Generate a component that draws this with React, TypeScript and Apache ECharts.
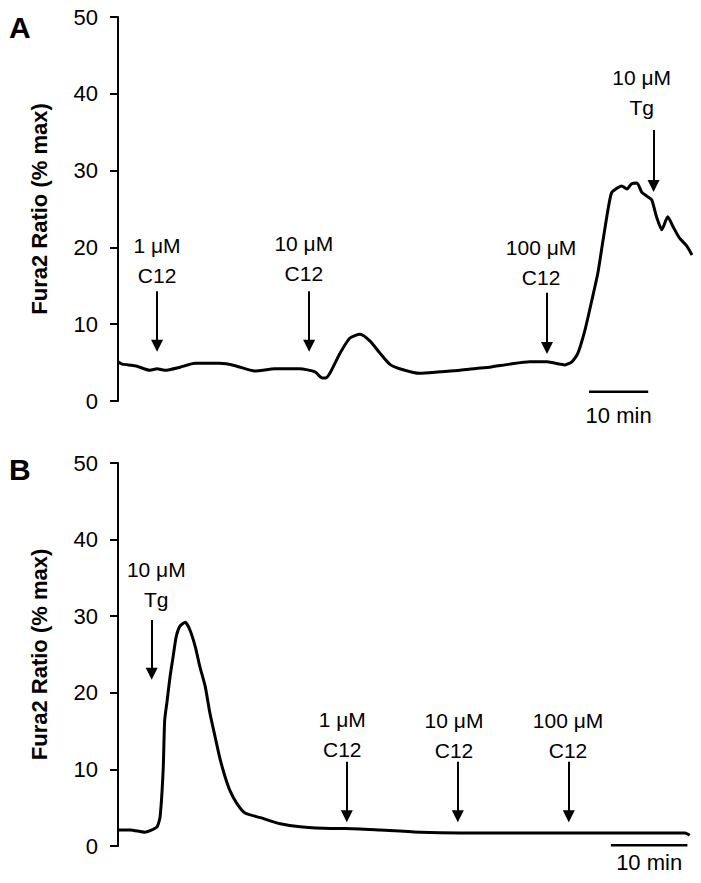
import React, { useEffect, useRef } from 'react';
import * as echarts from 'echarts';

// Panel A trace: time (min) and Fura2 ratio (% max)
const timeA = [0, 0.7, 2.9, 5.4, 6.6, 7.9, 10.5, 13.0, 17.2, 19.8, 23.1, 26.5, 30.7, 33.3, 34.5, 35.1, 35.8, 37.5, 39.2, 40.9, 42.6, 44.3, 45.9, 47.6, 51.0, 54.4, 57.8, 61.1, 62.8, 66.2, 69.6, 72.5, 74.7, 75.5, 76.7, 77.7, 78.9, 80.1, 81.1, 81.9, 82.8, 83.4, 84.3, 85.1, 86.0, 86.8, 87.7, 88.5, 89.5, 90.2, 91.0, 91.9, 92.9, 93.8, 94.9, 96.1, 97.0];
const ratioA = [5.1, 4.8, 4.6, 4.0, 4.2, 4.0, 4.4, 4.9, 4.9, 4.6, 3.9, 4.2, 4.2, 3.8, 3.0, 3.0, 3.6, 6.2, 8.2, 8.7, 7.8, 6.2, 4.8, 4.2, 3.6, 3.8, 4.0, 4.3, 4.4, 4.8, 5.1, 5.1, 4.8, 4.7, 5.1, 6.2, 9.2, 13.2, 16.7, 20.6, 24.9, 27.1, 27.7, 28.0, 27.6, 28.3, 28.4, 27.2, 26.6, 26.2, 24.0, 22.3, 24.0, 22.7, 21.2, 20.2, 19.0];

// Panel B trace
const timeB = [0, 1.6, 3.5, 4.2, 5.1, 5.5, 5.9, 6.1, 6.4, 6.8, 7.2, 7.6, 8.1, 8.8, 9.4, 10.1, 10.7, 11.4, 12.0, 12.7, 13.3, 14.0, 14.6, 15.5, 16.6, 18.6, 21.2, 23.8, 27.7, 29.7, 34.2, 39.5, 44.7, 49.9, 56.4, 63.0, 68.2, 74.1, 74.7];
const ratioB = [2.1, 2.1, 1.8, 2.0, 2.5, 3.8, 9.9, 16.4, 18.8, 22.1, 24.7, 27.3, 28.7, 29.2, 28.2, 26.0, 23.4, 20.8, 17.4, 14.2, 11.5, 9.0, 7.3, 5.6, 4.3, 3.7, 2.9, 2.5, 2.3, 2.3, 2.1, 1.8, 1.7, 1.7, 1.7, 1.7, 1.7, 1.7, 1.4];

// Additions (arrows) panel A
const addTextA = ['1 μM\nC12', '10 μM\nC12', '100 μM\nC12', '10 μM\nTg'];
const addTimeA = [6.6, 32.3, 72.5, 90.5];
const arrowTopA = [14.3, 14.3, 14.1, 35.3];
const arrowEndA = [7.2, 7.2, 6.9, 28.0];
const labelTimeA = [6.6, 31.4, 71.5, 88.5];
const labelLevelA = [18.3, 18.5, 18.0, 40.2];

// Additions (arrows) panel B
const addTextB = ['10 μM\nTg', '1 μM\nC12', '10 μM\nC12', '100 μM\nC12'];
const addTimeB = [4.4, 29.9, 44.4, 58.9];
const arrowTopB = [29.5, 11.0, 11.0, 11.0];
const arrowEndB = [22.5, 3.9, 3.9, 3.9];
const labelTimeB = [5.0, 29.3, 43.9, 58.8];
const labelLevelB = [34.1, 14.5, 14.4, 14.4];

// Scale bars (10 min)
const scaleBarA = [79.6, 89.6];
const scaleLevelA = 1.2;
const scaleLabelLevelA = -1.9;
const scaleBarB = [64.4, 74.4];
const scaleLevelB = 0.1;
const scaleLabelLevelB = -2.2;
const scaleText = '10 min';

const yTicks = { min: 0, max: 50, interval: 10 };
const axisTitle = 'Fura2 Ratio (% max)';

const FONT = '"Liberation Sans", Arial, sans-serif';

export default function App() {
  const ref = useRef<HTMLDivElement>(null);
  useEffect(() => {
    const chart = echarts.init(ref.current!, null, { renderer: 'svg' });

    const yAxis = (gridIndex: number) => ({
      type: 'value',
      gridIndex,
      min: yTicks.min,
      max: yTicks.max,
      interval: yTicks.interval,
      name: axisTitle,
      nameLocation: 'middle',
      nameGap: 68,
      nameRotate: 90,
      nameTextStyle: { fontFamily: FONT, fontSize: 22, fontWeight: 'bold', color: '#000' },
      axisLine: { show: true, lineStyle: { color: '#000', width: 2 } },
      axisTick: { show: true, inside: false, length: 8, lineStyle: { color: '#000', width: 2 } },
      axisLabel: { fontFamily: FONT, fontSize: 22, color: '#000', margin: 20 },
      splitLine: { show: false },
    });

    const trace = (idx: number, t: number[], v: number[], text: string[], at: number[], top: number[], end: number[], lt: number[], ll: number[]) => ({
      type: 'line',
      xAxisIndex: idx,
      yAxisIndex: idx,
      data: t.map((x, i) => [x, v[i]]),
      symbol: 'none',
      smooth: 0.2,
      lineStyle: { color: '#000', width: 3 },
      silent: true,
      markLine: {
        silent: true,
        symbol: ['none', 'triangle'],
        symbolSize: 12,
        itemStyle: { color: '#000' },
        lineStyle: { color: '#000', width: 2, type: 'solid' },
        label: { show: false },
        data: at.map((x, i) => [{ coord: [x, top[i]] }, { coord: [x, end[i]] }]),
      },
      markPoint: {
        silent: true,
        symbol: 'circle',
        symbolSize: 1,
        itemStyle: { color: 'transparent' },
        label: {
          show: true,
          position: 'inside',
          formatter: '{b}',
          color: '#000',
          fontSize: 21,
          lineHeight: 30,
          fontFamily: FONT,
          align: 'center',
        },
        data: text.map((s, i) => ({ name: s, coord: [lt[i], ll[i]] })),
      },
    });

    const scale = (idx: number, bar: number[], level: number) => ({
      type: 'line',
      xAxisIndex: idx,
      yAxisIndex: idx,
      data: bar.map((x) => [x, level]),
      symbol: 'none',
      clip: false,
      silent: true,
      lineStyle: { color: '#000', width: 2.5 },
    });

    chart.setOption({
      animation: false,
      grid: [
        { left: 118, top: 17, width: 574, height: 384 },
        { left: 118, top: 463, width: 574, height: 383 },
      ],
      xAxis: [
        { type: 'value', gridIndex: 0, min: 0, max: 97, show: false },
        { type: 'value', gridIndex: 1, min: 0, max: 75, show: false },
      ],
      yAxis: [yAxis(0), yAxis(1)],
      series: [
        trace(0, timeA, ratioA, addTextA, addTimeA, arrowTopA, arrowEndA, labelTimeA, labelLevelA),
        trace(1, timeB, ratioB, addTextB, addTimeB, arrowTopB, arrowEndB, labelTimeB, labelLevelB),
        scale(0, scaleBarA, scaleLevelA),
        scale(1, scaleBarB, scaleLevelB),
      ],
    });

    const pA = chart.convertToPixel({ gridIndex: 0 }, [(scaleBarA[0] + scaleBarA[1]) / 2, scaleLabelLevelA]) as number[];
    const pB = chart.convertToPixel({ gridIndex: 1 }, [(scaleBarB[0] + scaleBarB[1]) / 2, scaleLabelLevelB]) as number[];
    const scaleLabel = (p: number[]) => ({
      type: 'text',
      x: p[0],
      y: p[1],
      silent: true,
      style: { text: scaleText, font: '22px ' + FONT, fill: '#000', align: 'center', verticalAlign: 'middle' },
    });

    chart.setOption({
      graphic: [
        { type: 'text', left: 9, top: 12, silent: true, style: { text: 'A', font: 'bold 30px ' + FONT, fill: '#000' } },
        { type: 'text', left: 9, top: 454, silent: true, style: { text: 'B', font: 'bold 30px ' + FONT, fill: '#000' } },
        scaleLabel(pA),
        scaleLabel(pB),
      ],
    });

    return () => chart.dispose();
  }, []);
  return <div ref={ref} style={{ position: 'absolute', left: 0, top: 0, width: 701, height: 883 }} />;
}
